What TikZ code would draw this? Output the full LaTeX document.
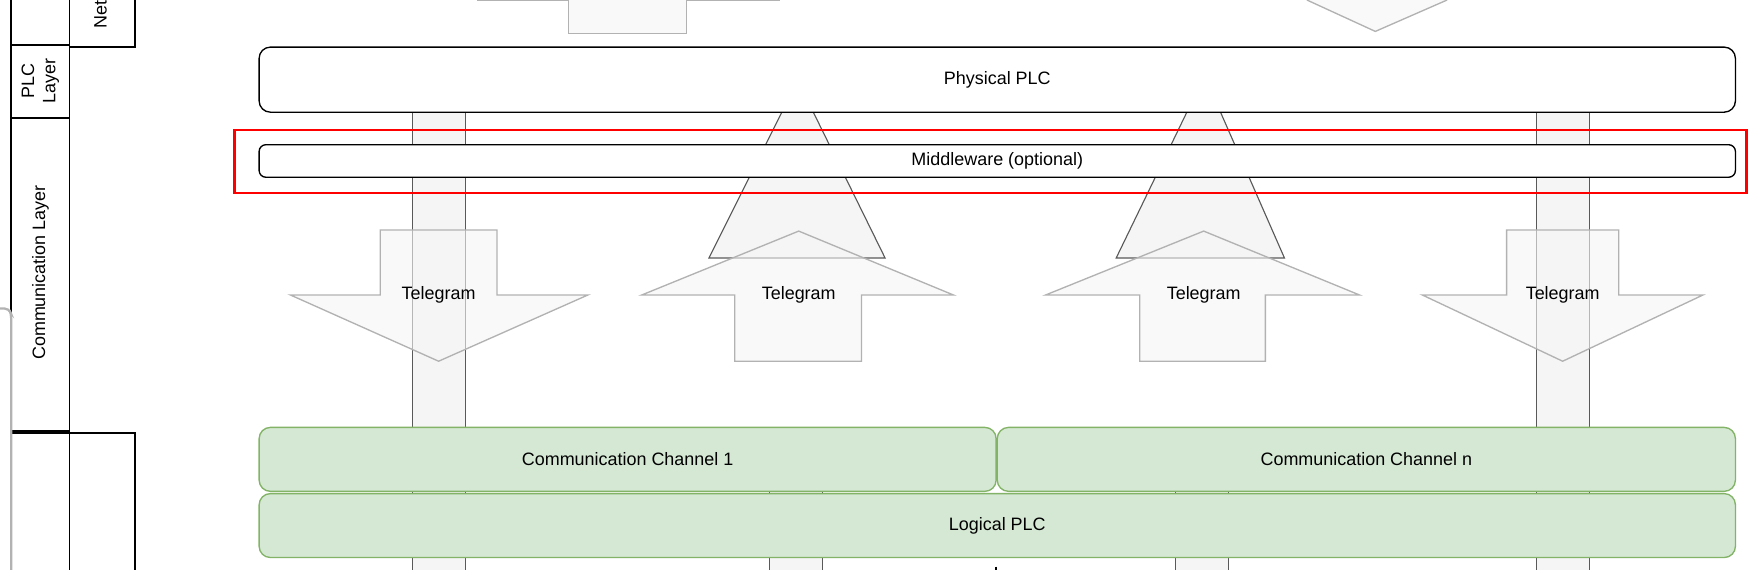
\documentclass[tikz,border=0pt]{standalone}
\usepackage{fontspec}
\setmainfont{Liberation Sans}
\begin{document}
\begin{tikzpicture}[x=0.5pt,y=-0.5pt,
  every node/.style={font=\fontsize{8}{9.5}\selectfont, inner sep=0pt},
  col/.style={fill=gray!8, draw=gray!70!black, line width=0.5pt},
  tarrow/.style={fill=gray!8, fill opacity=0.6, draw=gray!60, line width=0.6pt},
  wbox/.style={rounded corners=5pt, fill=white, draw=black, line width=0.6pt},
  gbox/.style={rounded corners=5pt, fill={rgb,255:red,213;green,232;blue,212}, draw={rgb,255:red,130;green,179;blue,102}, line width=0.6pt},
  lane/.style={draw=black, line width=0.8pt}]
\useasboundingbox (0,0) rectangle (1560,508);
% left lanes
\draw[lane] (10,0) -- (10,385);
\draw[lane] (10,40) rectangle (62,105);
\draw[lane] (10,105) rectangle (62,385);
\draw[line width=2pt] (10,385) -- (62,385);
\draw[lane] (62,0) -- (62,42) -- (120,42) -- (120,0);
\draw[lane] (62,385) -- (62,508) (62,386) -- (120,386) -- (120,508);
\draw[gray!60, line width=1pt, rounded corners=2pt] (0,275) -- (8,275) -- (10,280) -- (10,508);
\node[rotate=90, align=center] (plcl) at (36,72) {PLC\\Layer};
\node[rotate=90] (cl) at (36,243) {Communication Layer};
\begin{scope}
\clip (62,0) rectangle (120,42);
\node[rotate=90, anchor=west] (net) at (91,26) {Network Layer};
\end{scope}
% columns
\draw[col] (368,100) rectangle (415,510);
\draw[col] (1370,100) rectangle (1417,510);
\draw[col] (686,386) rectangle (733,510);
\draw[col] (1048,386) rectangle (1095,510);
\draw[col] (697,100) -- (725,100) -- (789,230) -- (632,230) -- cycle;
\draw[col] (1058,100) -- (1088,100) -- (1145,230) -- (995,230) -- cycle;
% top partial shapes
\draw[tarrow] (425,0) -- (507,0) -- (507,30) -- (612,30) -- (612,0) -- (695,0);
\draw[tarrow] (1165,0) -- (1226,28) -- (1290,0);
% boxes
\node[wbox, minimum width=658pt, minimum height=29pt] (phys) at (889,71) {Physical PLC};
\draw[red, line width=1.2pt] (209,116) rectangle (1557,172);
\node[wbox, minimum width=658pt, minimum height=14.5pt, rounded corners=3pt] (mid) at (889,143.5) {Middleware (optional)};
\node[gbox, minimum width=328.5pt, minimum height=28.5pt] (cc1) at (559.5,409.5) {Communication Channel 1};
\node[gbox, minimum width=329pt, minimum height=28.5pt] (ccn) at (1218,409.5) {Communication Channel n};
\node[gbox, minimum width=658pt, minimum height=28.5pt] (lp) at (889,468.5) {Logical PLC};
\draw[line width=0.6pt] (888,505) -- (888,510) -- (891,510);
% telegram arrows
\draw[tarrow] (339,205) -- (443,205) -- (443,263) -- (524,263) -- (391,322) -- (259,263) -- (339,263) -- cycle;
\draw[tarrow] (1343,205) -- (1443,205) -- (1443,263) -- (1518,263) -- (1393,322) -- (1268,263) -- (1343,263) -- cycle;
\draw[tarrow] (655,322) -- (768,322) -- (768,263) -- (850,263) -- (712,206) -- (572,263) -- (655,263) -- cycle;
\draw[tarrow] (1016,322) -- (1128,322) -- (1128,263) -- (1212,263) -- (1073,206) -- (932,263) -- (1016,263) -- cycle;
\node (t1) at (391,263) {Telegram};
\node (t2) at (712,263) {Telegram};
\node (t3) at (1073,263) {Telegram};
\node (t4) at (1393,263) {Telegram};
\end{tikzpicture}
\end{document}
